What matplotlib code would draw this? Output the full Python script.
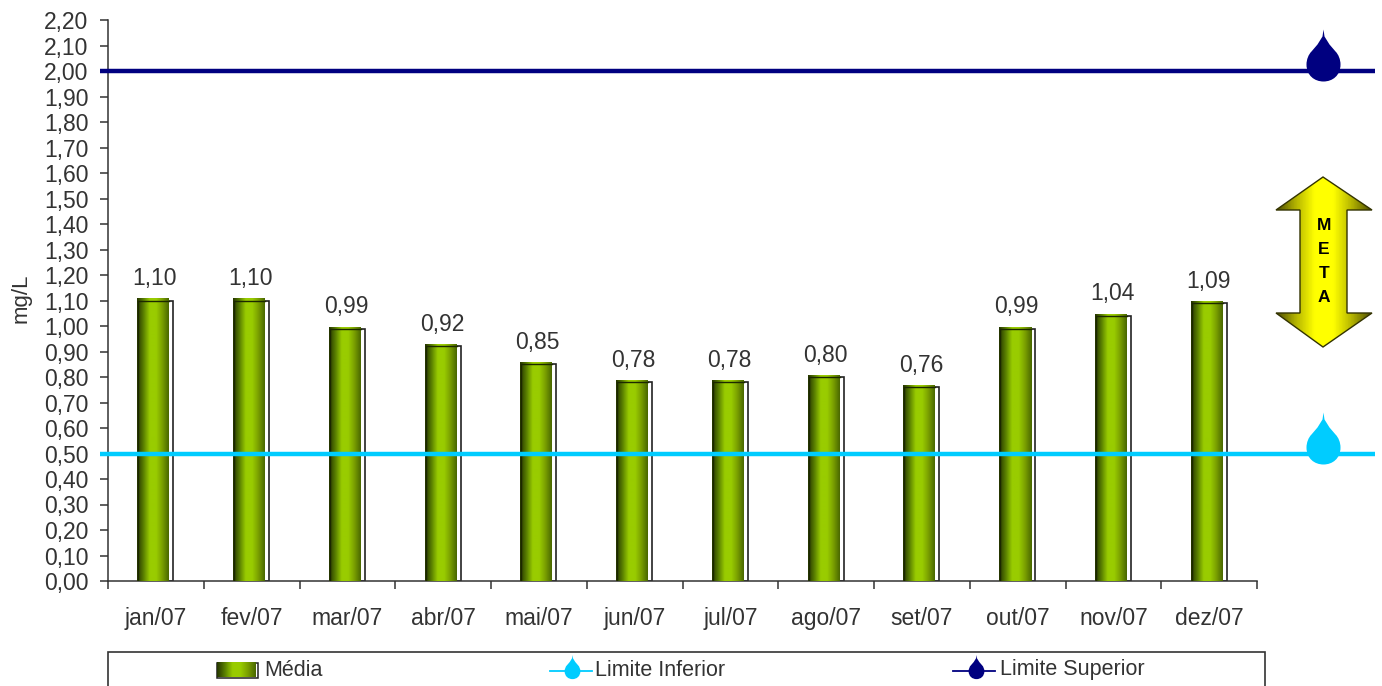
import numpy as np
import matplotlib
matplotlib.use('Agg')
import matplotlib.pyplot as plt
from matplotlib.colors import LinearSegmentedColormap
from matplotlib.patches import Polygon, Rectangle
from matplotlib.path import Path

plt.rcParams['font.family'] = ['Liberation Sans', 'DejaVu Sans']

meses = ['jan/07', 'fev/07', 'mar/07', 'abr/07', 'mai/07', 'jun/07',
         'jul/07', 'ago/07', 'set/07', 'out/07', 'nov/07', 'dez/07']
media = [1.10, 1.10, 0.99, 0.92, 0.85, 0.78, 0.78, 0.80, 0.76, 0.99, 1.04, 1.09]
limite_inferior = 0.50
limite_superior = 2.00
y_ticks = [i / 10 for i in range(23)]

W, H = 1382, 686
cinza = '#333333'
azul_escuro = '#000080'
azul_claro = '#00CCFF'

# gota desenhada em pixels em volta do ponto da linha
gota = Path(
    [(0, 42), (1, 35), (6, 27), (12, 20), (15, 17), (17, 12), (17, 7),
     (17, -4), (9, -10), (0, -10), (-9, -10), (-17, -4), (-17, 7),
     (-17, 12), (-15, 17), (-12, 20), (-6, 27), (-1, 35), (0, 42), (0, 42)],
    [Path.MOVETO, Path.LINETO, Path.LINETO, Path.LINETO,
     Path.CURVE4, Path.CURVE4, Path.CURVE4,
     Path.CURVE4, Path.CURVE4, Path.CURVE4,
     Path.CURVE4, Path.CURVE4, Path.CURVE4,
     Path.CURVE4, Path.CURVE4, Path.CURVE4,
     Path.LINETO, Path.LINETO, Path.LINETO, Path.CLOSEPOLY])

grad_barra = LinearSegmentedColormap.from_list(
    'barra', ['#263600', '#5a8000', '#99CC00', '#99CC00', '#7a9f00', '#4a6800'])
grad_seta = LinearSegmentedColormap.from_list(
    'seta', ['#4d4d00', '#b3b300', '#FFFF00', '#FFFF00', '#b3b300', '#4d4d00'])
faixa = np.linspace(0, 1, 64).reshape(1, -1)

fig = plt.figure(figsize=(W / 100, H / 100), dpi=100, facecolor='white')
ax = fig.add_axes([108 / W, (H - 581) / H, (1257 - 108) / W, 561 / H])

x = np.arange(len(meses))
px = 1149 / len(meses)  # pixels por categoria
barras = ax.bar(x, media, width=35 / px, color='white', edgecolor='#222222',
                linewidth=1.2, zorder=2)
for b in barras:
    # miolo verde deslocado, sobra a faixa branca na direita
    x0 = b.get_x() - 1 / px
    x1 = b.get_x() + b.get_width() - 4 / px
    topo = b.get_height() + 0.006
    ax.imshow(faixa, cmap=grad_barra, aspect='auto', zorder=3,
              extent=(x0, x1, 0, topo))
    ax.plot([b.get_x(), x1], [b.get_height()] * 2, color='#1c2800', lw=1, zorder=4)
    ax.plot([b.get_x(), b.get_x()], [0, b.get_height()], color='#1c2800', lw=1, zorder=4)
    ax.annotate(f'{b.get_height():.2f}'.replace('.', ','),
                (b.get_x() + b.get_width() / 2 - 1 / px, b.get_height()),
                xytext=(0, 7.5), textcoords='offset points', ha='center',
                va='bottom', fontsize=16.5, color=cinza)

# linhas de limite passam do eixo ate a gota
lin_x = [-0.584, 12.73]
gota_x = 12.19
for valor, cor in [(limite_superior, azul_escuro), (limite_inferior, azul_claro)]:
    ax.plot(lin_x, [valor, valor], color=cor, lw=3.2, clip_on=False, zorder=5,
            solid_capstyle='butt')
    ax.plot([gota_x], [valor], marker=gota, markersize=60.5, color=cor, mew=0,
            clip_on=False, zorder=5)

ax.set_xlim(-0.5, 11.5)
ax.set_ylim(0, 2.2)
ax.set_yticks(y_ticks)
ax.set_yticklabels([f'{v:.2f}'.replace('.', ',') for v in y_ticks])
ax.set_xticks(np.arange(-0.5, 12, 1))
ax.set_xticklabels([])
ax.set_xticks(x, meses, minor=True)
ax.tick_params(axis='x', which='minor', length=0, pad=19, labelsize=16.5, labelcolor=cinza)
ax.tick_params(axis='x', which='major', length=6, width=1.1, color=cinza)
ax.tick_params(axis='y', length=6, width=1.1, color=cinza, pad=8,
               labelsize=16.5, labelcolor=cinza)
for lado in ['top', 'right']:
    ax.spines[lado].set_visible(False)
for lado in ['left', 'bottom']:
    ax.spines[lado].set_color(cinza)
    ax.spines[lado].set_linewidth(1.1)
ax.set_ylabel('mg/L', fontsize=16, color=cinza)
ax.yaxis.set_label_coords(32 / W, (H - 298) / H, transform=fig.transFigure)

# camada em pixels para a seta META e a legenda
ov = fig.add_axes([0, 0, 1, 1], zorder=10)
ov.patch.set_alpha(0)
ov.axis('off')

seta = Polygon([(1323, 177), (1372, 210), (1347, 210), (1347, 313), (1372, 313),
                (1323, 347), (1276, 313), (1300, 313), (1300, 210), (1276, 210)],
               closed=True, facecolor='none', edgecolor='#333300', lw=1, zorder=3)
ov.add_patch(seta)
im = ov.imshow(faixa, cmap=grad_seta, aspect='auto', extent=(1276, 1372, 347, 177), zorder=2)
im.set_clip_path(seta)
for letra, yy in zip('META', [226, 250, 273, 297]):
    ov.text(1324, yy, letra, ha='center', va='center', fontsize=12.5,
            fontweight='bold', color='black', zorder=4)

ov.add_patch(Rectangle((108, 652), 1157, 60, facecolor='white', edgecolor=cinza, lw=1.2))
ov.add_patch(Rectangle((217, 663), 41, 15, facecolor='white', edgecolor='#222222', lw=1.1, zorder=2))
ov.imshow(faixa, cmap=grad_barra, aspect='auto', extent=(217, 256, 677, 662), zorder=3)
ov.text(264, 671, 'Média', va='center', fontsize=15.5, color=cinza)

ov.plot([550, 592], [671, 671], color=azul_claro, lw=1.3)
ov.plot([572], [674], marker=gota, markersize=28, color=azul_claro, mew=0)
ov.text(595, 670, 'Limite Inferior', va='center', fontsize=15.5, color=cinza)

ov.plot([953, 995], [671, 671], color=azul_escuro, lw=1.3)
ov.plot([976], [674], marker=gota, markersize=28, color=azul_escuro, mew=0)
ov.text(1000, 670, 'Limite Superior', va='center', fontsize=15.5, color=cinza)

ov.set_xlim(0, W)
ov.set_ylim(H, 0)

fig.savefig('out.png', dpi=100, facecolor='white')
